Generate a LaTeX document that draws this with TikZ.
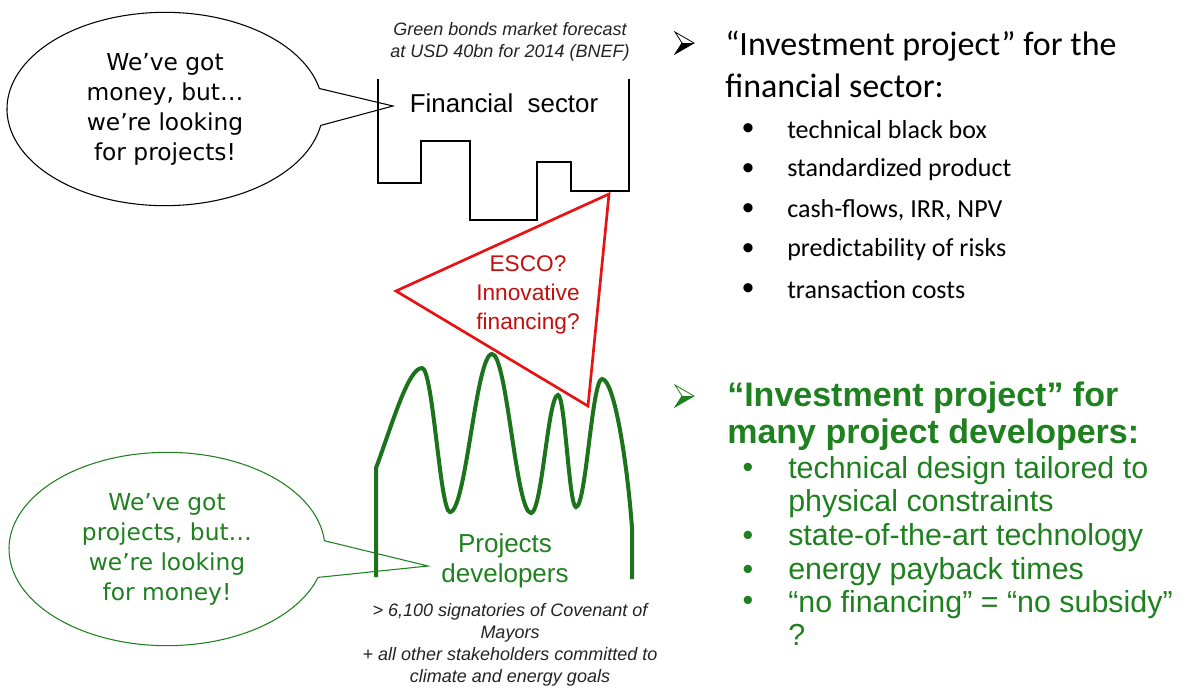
\documentclass[tikz,border=0pt]{standalone}
\usepackage{fontspec}
\setmainfont{Liberation Sans}
\newfontfamily\bubblefont{DejaVu Sans}
\newfontfamily\listfont{Carlito}
\usetikzlibrary{
  shapes.callouts,  % Shape "ellipse callout"
}
\definecolor{devgreen}{RGB}{31,128,31}
\definecolor{escored}{RGB}{232,18,18}
\definecolor{notegray}{RGB}{35,35,35}
\newcommand{\fsz}[2]{\fontsize{#1}{#2}\selectfont}
\tikzset{
  px/.style={
    x=0.75pt,
    y=-0.75pt
  },
  my bubble/.style={
    ellipse callout,
    draw,
    line width=0.8pt,
    minimum width=237pt,
    minimum height=145pt,
    inner sep=0pt,
    callout pointer arc=22,
    align=center,
    font=\bubblefont\fsz{17.5pt}{22.5pt}
  },
  box line/.style={
    line width=2.2pt,
    line join=miter
  },
  esco/.style={
    draw=escored,
    line width=2pt,
    line join=miter
  },
  wave/.style={
    draw=devgreen!90!black,
    line width=3pt
  },
  note/.style={
    font=\itshape\fsz{13.5pt}{16.5pt},
    text=notegray,
    align=center,
    inner sep=0pt
  },
  head/.style={
    anchor=west,
    inner sep=0pt,
    align=left
  },
  item/.style={
    anchor=west,
    inner sep=0pt,
    align=left
  },
  dot/.style={
    inner sep=0pt
  }
}
% Wingdings-like arrow bullet: #1 top left corner, #2 colour
\newcommand{\arrowmark}[2]{
  \begin{scope}[shift={#1}]
    \draw[#2, line width=0.6pt, line join=miter] (0,0) -- (19,11) -- (0,22) -- (7,11) -- cycle;
    \fill[#2] (7,11) -- (19,11) -- (0,22) -- cycle;
  \end{scope}
}

\begin{document}
\begin{tikzpicture}[px]
\useasboundingbox (0,0) rectangle (1187,690);

% top bubble and financial sector
\coordinate (fin tip) at (393,106);
\node[my bubble, callout absolute pointer=(fin tip)] (money) at (165,109)
  {We’ve got\\money, but…\\we’re looking\\for projects!};
\draw[box line] (378,79) -- (378,183) -- (421,183) -- (421,141) -- (470,141)
  -- (470,220) -- (537,220) -- (537,162) -- (571,162) -- (571,191)
  -- (629,191) -- (629,79);
\node (fin) at (504,103) {\fsz{19.4pt}{23pt}Financial\ \ sector};
\node[note] (bnef) at (510,42) {Green bonds market forecast\\at USD 40bn for 2014 (BNEF)};

% projects developers
\draw[wave] (376,577) -- (376,468)
  .. controls (392,425) and (408,368) .. (422,368)
  .. controls (433,368) and (440,512) .. (450,512)
  .. controls (466,512) and (476,354) .. (492,354)
  .. controls (507,354) and (516,513) .. (531,513)
  .. controls (542,513) and (548,395) .. (558,395)
  .. controls (565,395) and (569,507) .. (576,507)
  .. controls (586,507) and (592,379) .. (602,379)
  .. controls (614,379) and (627,460) .. (632,528) -- (632,579);
\node[text=devgreen, align=center, font=\fsz{19.5pt}{22.5pt}] (dev) at (505,561)
  {Projects\\developers};
\coordinate (dev tip) at (428,566);
\node[my bubble, draw=devgreen, text=devgreen, callout absolute pointer=(dev tip)]
  (projects) at (167,549) {We’ve got\\projects, but…\\we’re looking\\for money!};
\node[note] (com) at (510,645) {> 6,100 signatories of Covenant of\\Mayors\\
  + all other stakeholders committed to\\climate and energy goals};

% ESCO
\draw[esco, fill=white] (609,194) -- (396,291) -- (588,406) -- cycle;
\node[text=escored!85!black, align=center, font=\fsz{17pt}{21.75pt}] (esco) at (528,295)
  {ESCO?\\Innovative\\financing?};

% financial sector list
\arrowmark{(675,32)}{black}
\node[head, font=\listfont\fsz{25.5pt}{31.5pt}] (fin head) at (725,64)
  {“Investment project” for the\\financial sector:};
\begin{scope}[font=\listfont\fsz{19.5pt}{24pt}]
\node[dot] (d1) at (748,130) {\textbullet};
\node[dot] (d2) at (748,170) {\textbullet};
\node[dot] (d3) at (748,210) {\textbullet};
\node[dot] (d4) at (748,250) {\textbullet};
\node[dot] (d5) at (748,290) {\textbullet};
\node[item] (i1) at (787,130) {technical black box};
\node[item] (i2) at (787,170) {standardized product};
\node[item] (i3) at (787,210) {cash-flows, IRR, NPV};
\node[item] (i4) at (787,250) {predictability of risks};
\node[item] (i5) at (787,290) {transaction costs};
\end{scope}

% project developers list
\arrowmark{(675,385)}{devgreen}
\node[head, text=devgreen, font=\bfseries\fsz{25.5pt}{27.75pt}] (dev head) at (727,416)
  {“Investment project” for\\many project developers:};
\begin{scope}[text=devgreen, font=\fsz{22.8pt}{24.75pt}]
\node[dot] (g1) at (748,470) {\textbullet};
\node[dot] (g2) at (748,538) {\textbullet};
\node[dot] (g3) at (748,572) {\textbullet};
\node[dot] (g4) at (748,603) {\textbullet};
\node[item] (j1) at (788,487) {technical design tailored to\\physical constraints};
\node[item] (j2) at (788,538) {state-of-the-art technology};
\node[item] (j3) at (788,572) {energy payback times};
\node[item] (j4) at (788,618) {“no financing” = “no subsidy”\\?};
\end{scope}
\end{tikzpicture}
\end{document}
